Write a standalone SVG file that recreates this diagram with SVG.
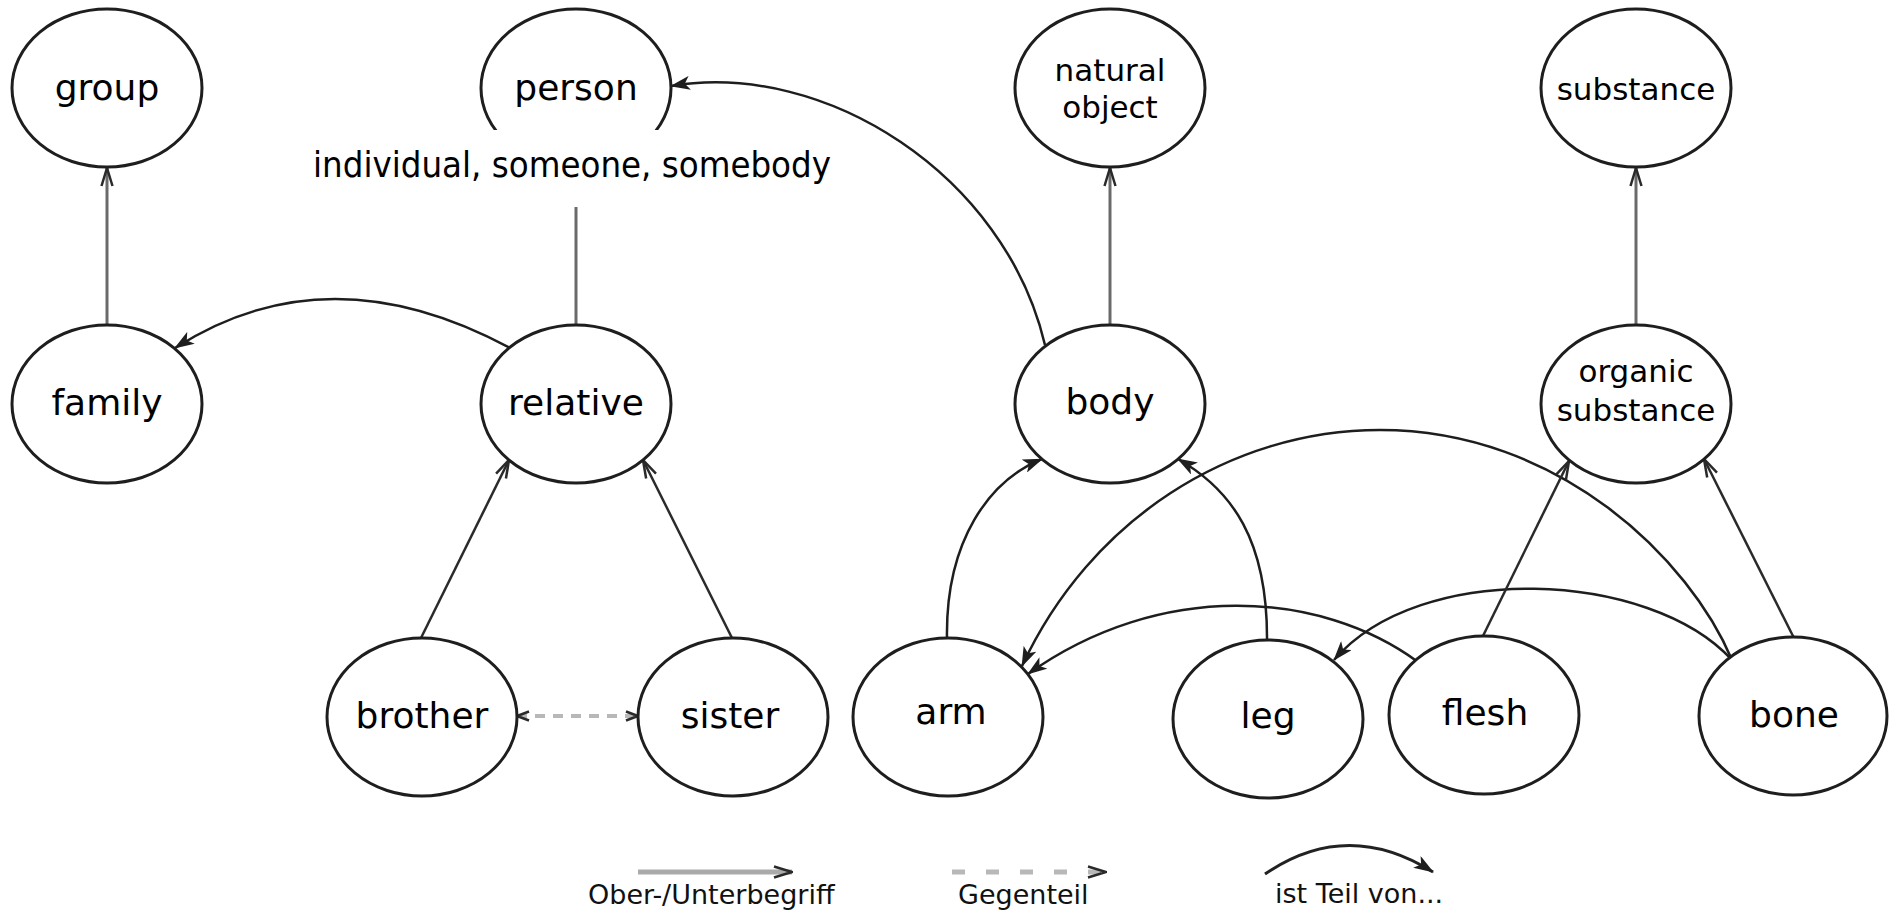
<svg xmlns="http://www.w3.org/2000/svg" width="1889" height="912" viewBox="0 0 1889 912">
<defs>
<style>
.node ellipse{fill:#fff;stroke:#1e1e1e;stroke-width:3}
.node text{font-family:"DejaVu Sans",Verdana,sans-serif;font-size:36px;text-anchor:middle;fill:#000}
.node text.sm{font-size:31px}
.lbl{font-family:"DejaVu Sans Condensed","DejaVu Sans",sans-serif;font-size:35px;fill:#000}
.hyp{fill:none;stroke:#6a6a6a;stroke-width:3;marker-end:url(#mHyp)}
.hypd{fill:none;stroke:#2a2a2a;stroke-width:2.5;marker-end:url(#mHyp)}
.part{fill:none;stroke:#1e1e1e;stroke-width:2.5;marker-end:url(#mPart)}
.opp{fill:none;stroke:#b8b8b8;stroke-width:4;stroke-dasharray:10 8;marker-start:url(#mOpp);marker-end:url(#mOpp)}
.leg text{font-family:"DejaVu Sans",Verdana,sans-serif;font-size:27px;fill:#111}
</style>
<marker id="mHyp" viewBox="0 0 20 14" refX="19" refY="7" markerWidth="20" markerHeight="14" markerUnits="userSpaceOnUse" orient="auto">
<path d="M1,1.5 L19,7 L1,12.5" fill="none" stroke="#2a2a2a" stroke-width="2.5"/>
</marker>
<marker id="mPart" viewBox="0 0 20 14" refX="19" refY="7" markerWidth="20" markerHeight="14" markerUnits="userSpaceOnUse" orient="auto">
<path d="M0,0 L20,7 L0,14 L5,7 Z" fill="#1e1e1e"/>
</marker>
<marker id="mOpp" viewBox="0 0 14 12" refX="13" refY="6" markerWidth="14" markerHeight="12" markerUnits="userSpaceOnUse" orient="auto-start-reverse">
<path d="M1,1.5 L13,6 L1,10.5" fill="none" stroke="#2a2a2a" stroke-width="2.5"/>
</marker>
</defs>
<rect width="1889" height="912" fill="#fff"/>

<g id="connectors">
<path class="hyp" d="M107,330 L107,168"/>
<path class="hyp" d="M576,330 L576,168"/>
<path class="part" d="M510,348 Q328,250 175,348"/>
<path class="part" d="M1045,345 C1005,175 825,60 671,86"/>
<path class="hyp" d="M1110,330 L1110,168"/>
<path class="hyp" d="M1636,330 L1636,168"/>
<path class="hypd" d="M420,640 L509,460"/>
<path class="hypd" d="M733,640 L643,460"/>
<path class="opp" d="M517,716 L638,716"/>
<path class="part" d="M947,640 C945,540 990,480 1042,459"/>
<path class="part" d="M1267,642 C1268,540 1232,490 1178,459"/>
<path class="part" d="M1732,660 C1690,560 1560,430 1380,430 C1230,430 1090,520 1022,666"/>
<path class="part" d="M1418,662 C1320,590 1160,580 1028,674"/>
<path class="part" d="M1732,660 C1650,570 1420,560 1334,660"/>
<path class="hypd" d="M1481,640 L1569,461"/>
<path class="hypd" d="M1795,640 L1704,459"/>
</g>

<g id="n-group" class="node"><ellipse cx="107" cy="88" rx="95" ry="79"/><text x="107" y="100">group</text></g>
<g id="n-person" class="node"><ellipse cx="576" cy="88" rx="95" ry="79"/><text x="576" y="100">person</text>
<rect x="300" y="130" width="550" height="77" fill="#fff"/>
<text class="lbl" x="313" y="177" style="text-anchor:start;font-family:'DejaVu Sans Condensed','DejaVu Sans',sans-serif;font-size:35px" textLength="518" lengthAdjust="spacingAndGlyphs">individual, someone, somebody</text></g>
<g id="n-family" class="node"><ellipse cx="107" cy="404" rx="95" ry="79"/><text x="107" y="415">family</text></g>
<g id="n-relative" class="node"><ellipse cx="576" cy="404" rx="95" ry="79"/><text x="576" y="415">relative</text></g>
<g id="n-natural-object" class="node"><ellipse cx="1110" cy="88" rx="95" ry="79"/><text class="sm" x="1110" y="81">natural</text><text class="sm" x="1110" y="118">object</text></g>
<g id="n-body" class="node"><ellipse cx="1110" cy="404" rx="95" ry="79"/><text x="1110" y="414">body</text></g>
<g id="n-substance" class="node"><ellipse cx="1636" cy="88" rx="95" ry="79"/><text class="sm" x="1636" y="100">substance</text></g>
<g id="n-organic-substance" class="node"><ellipse cx="1636" cy="404" rx="95" ry="79"/><text class="sm" x="1636" y="382">organic</text><text class="sm" x="1636" y="421">substance</text></g>
<g id="n-brother" class="node"><ellipse cx="422" cy="717" rx="95" ry="79"/><text x="422" y="728">brother</text></g>
<g id="n-sister" class="node"><ellipse cx="733" cy="717" rx="95" ry="79"/><text x="730" y="728">sister</text></g>
<g id="n-arm" class="node"><ellipse cx="948" cy="717" rx="95" ry="79"/><text x="951" y="724">arm</text></g>
<g id="n-leg" class="node"><ellipse cx="1268" cy="719" rx="95" ry="79"/><text x="1268" y="728">leg</text></g>
<g id="n-flesh" class="node"><ellipse cx="1484" cy="715" rx="95" ry="79"/><text x="1485" y="725">flesh</text></g>
<g id="n-bone" class="node"><ellipse cx="1793" cy="716" rx="94" ry="79"/><text x="1794" y="727">bone</text></g>

<g id="legend" class="leg">
<path d="M638,872 L792,872" fill="none" stroke="#aaa" stroke-width="5" marker-end="url(#mHyp)"/>
<text x="588" y="904">Ober-/Unterbegriff</text>
<path d="M952,872 L1106,872" fill="none" stroke="#b8b8b8" stroke-width="5" stroke-dasharray="13 21" marker-end="url(#mHyp)"/>
<text x="958" y="904">Gegenteil</text>
<path d="M1265,874 Q1347,818 1433,872" fill="none" stroke="#222" stroke-width="3" marker-end="url(#mPart)"/>
<text x="1275" y="903">ist Teil von...</text>
</g>
</svg>
